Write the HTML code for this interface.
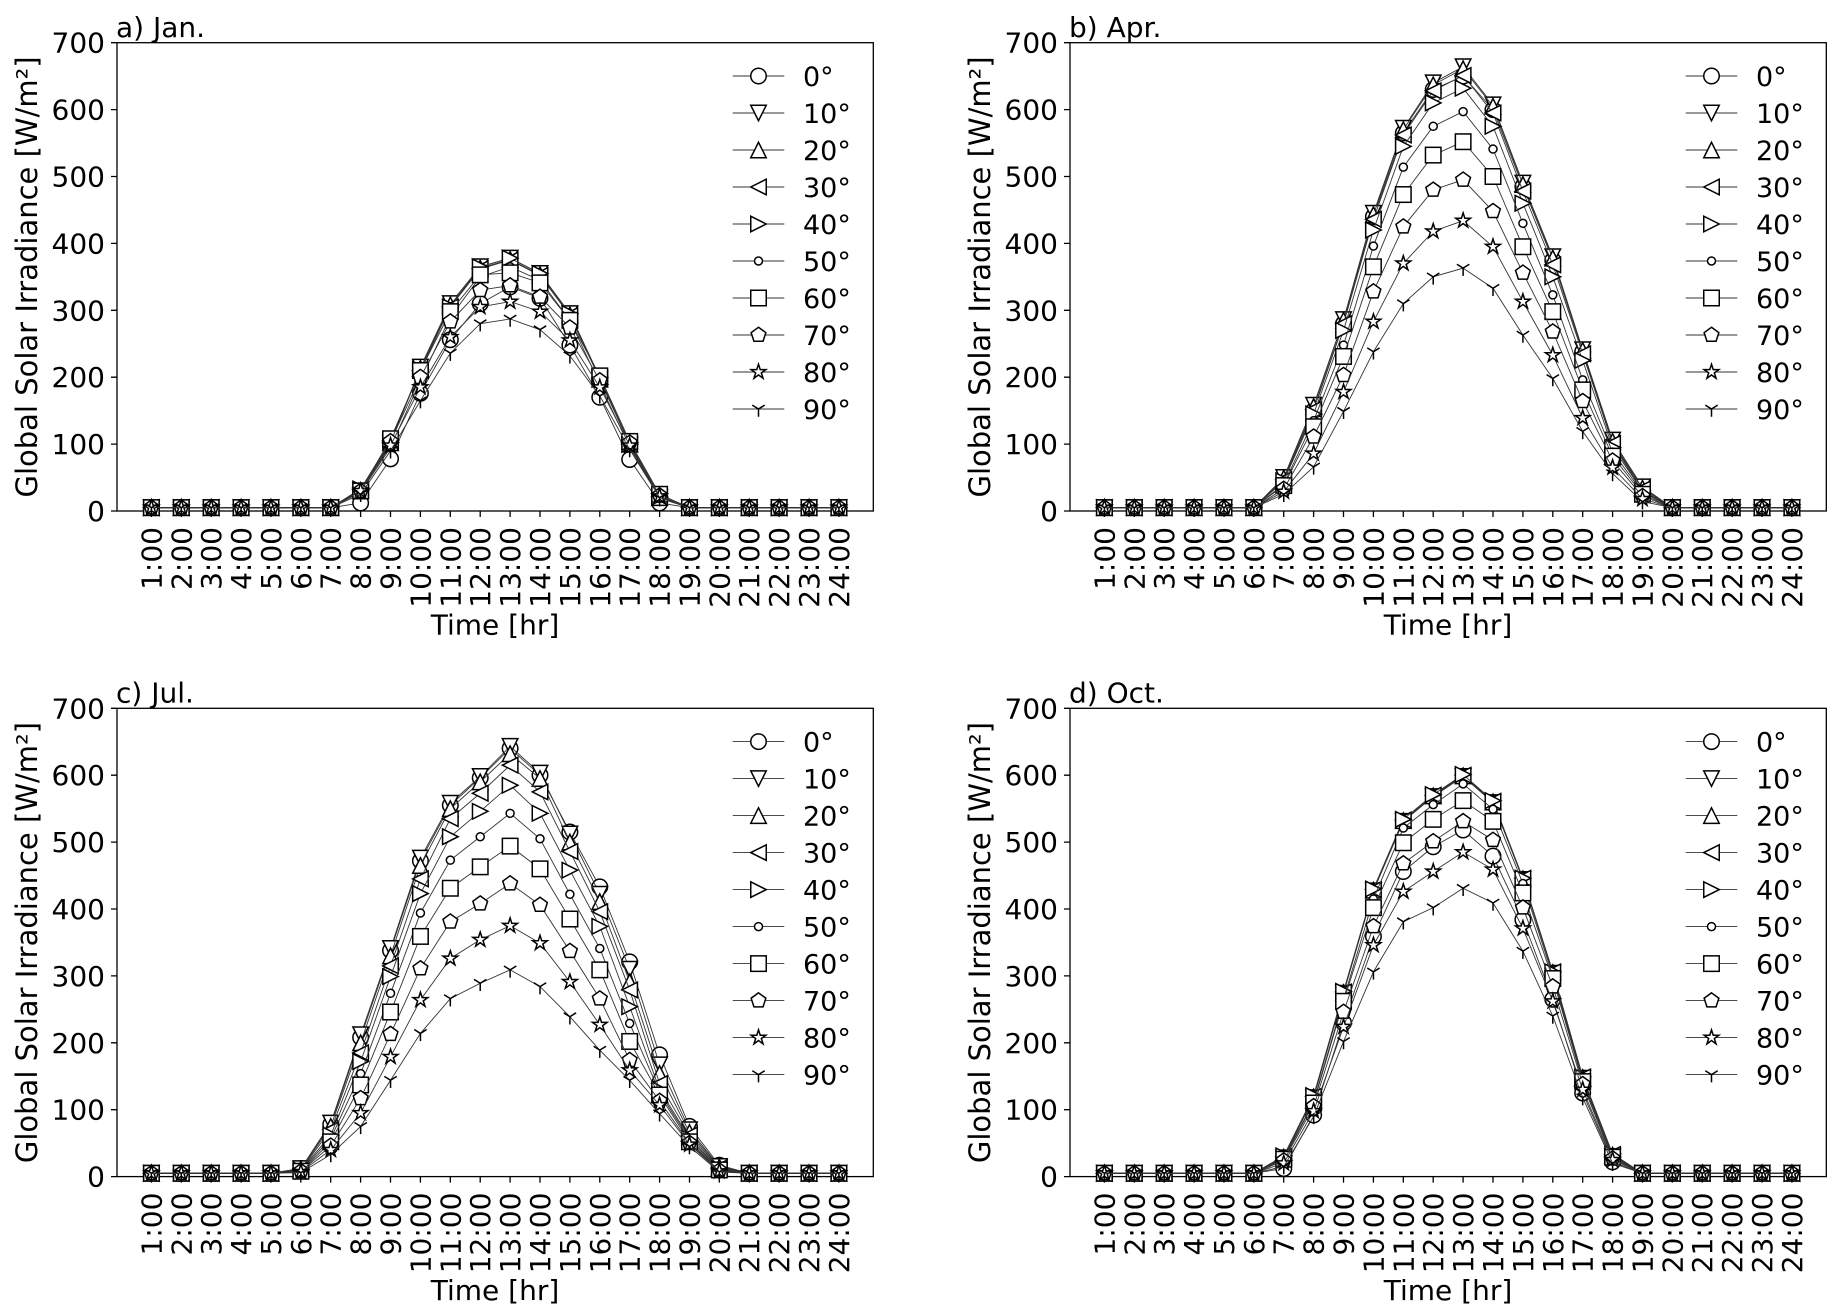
<!DOCTYPE html>
<html><head><meta charset="utf-8"><style>
html,body{margin:0;padding:0;background:#fff;}
svg{display:block;}
text{font-family:"DejaVu Sans","Liberation Sans",sans-serif;fill:#000;font-size:28px;}
.lg{font-size:27px;}
.yl{font-size:29px;}
</style></head><body>
<svg id="s" width="1838" height="1314" viewBox="0 0 1838 1314" xmlns="http://www.w3.org/2000/svg">
<rect width="1838" height="1314" fill="#fff"/>

<!-- Panel a -->
<g transform="translate(0,0)">
<rect x="117" y="42.7" width="756.3" height="468.3" fill="none" stroke="#000" stroke-width="1.3"/>
<path d="M111 511H117M111 444.1H117M111 377.2H117M111 310.3H117M111 243.4H117M111 176.5H117M111 109.6H117M111 42.7H117M151.4 511V517M181.3 511V517M211.2 511V517M241.1 511V517M271 511V517M300.8 511V517M330.7 511V517M360.6 511V517M390.5 511V517M420.4 511V517M450.3 511V517M480.2 511V517M510.1 511V517M540 511V517M569.9 511V517M599.8 511V517M629.7 511V517M659.6 511V517M689.5 511V517M719.3 511V517M749.2 511V517M779.1 511V517M809 511V517M838.9 511V517" stroke="#000" stroke-width="1.3" fill="none"/>
<g text-anchor="end">
<text x="105" y="521">0</text><text x="105" y="454.1">100</text><text x="105" y="387.2">200</text><text x="105" y="320.3">300</text><text x="105" y="253.4">400</text><text x="105" y="186.5">500</text><text x="105" y="119.6">600</text><text x="105" y="52.7">700</text>
<text transform="translate(161.4,527) rotate(-90)">1:00</text><text transform="translate(191.3,527) rotate(-90)">2:00</text><text transform="translate(221.2,527) rotate(-90)">3:00</text><text transform="translate(251.1,527) rotate(-90)">4:00</text><text transform="translate(281,527) rotate(-90)">5:00</text><text transform="translate(310.8,527) rotate(-90)">6:00</text><text transform="translate(340.7,527) rotate(-90)">7:00</text><text transform="translate(370.6,527) rotate(-90)">8:00</text><text transform="translate(400.5,527) rotate(-90)">9:00</text><text transform="translate(430.4,527) rotate(-90)">10:00</text><text transform="translate(460.3,527) rotate(-90)">11:00</text><text transform="translate(490.2,527) rotate(-90)">12:00</text><text transform="translate(520.1,527) rotate(-90)">13:00</text><text transform="translate(550,527) rotate(-90)">14:00</text><text transform="translate(579.9,527) rotate(-90)">15:00</text><text transform="translate(609.8,527) rotate(-90)">16:00</text><text transform="translate(639.7,527) rotate(-90)">17:00</text><text transform="translate(669.6,527) rotate(-90)">18:00</text><text transform="translate(699.5,527) rotate(-90)">19:00</text><text transform="translate(729.3,527) rotate(-90)">20:00</text><text transform="translate(759.2,527) rotate(-90)">21:00</text><text transform="translate(789.1,527) rotate(-90)">22:00</text><text transform="translate(819,527) rotate(-90)">23:00</text><text transform="translate(848.9,527) rotate(-90)">24:00</text>
</g>
<text x="116" y="37">a) Jan.</text>
<text class="yl" transform="translate(37,277) rotate(-90)" text-anchor="middle">Global Solar Irradiance [W/m²]</text>
<text x="495" y="634.5" text-anchor="middle">Time [hr]</text>
<g><text class="lg" x="803" y="86">0°</text><text class="lg" x="803" y="123">10°</text><text class="lg" x="803" y="160">20°</text><text class="lg" x="803" y="197">30°</text><text class="lg" x="803" y="234">40°</text><text class="lg" x="803" y="271">50°</text><text class="lg" x="803" y="308">60°</text><text class="lg" x="803" y="345">70°</text><text class="lg" x="803" y="382">80°</text><text class="lg" x="803" y="419">90°</text></g>
</g>

<!-- Panel b -->
<g transform="translate(953,0)">
<rect x="117" y="42.7" width="756.3" height="468.3" fill="none" stroke="#000" stroke-width="1.3"/>
<path d="M111 511H117M111 444.1H117M111 377.2H117M111 310.3H117M111 243.4H117M111 176.5H117M111 109.6H117M111 42.7H117M151.4 511V517M181.3 511V517M211.2 511V517M241.1 511V517M271 511V517M300.8 511V517M330.7 511V517M360.6 511V517M390.5 511V517M420.4 511V517M450.3 511V517M480.2 511V517M510.1 511V517M540 511V517M569.9 511V517M599.8 511V517M629.7 511V517M659.6 511V517M689.5 511V517M719.3 511V517M749.2 511V517M779.1 511V517M809 511V517M838.9 511V517" stroke="#000" stroke-width="1.3" fill="none"/>
<g text-anchor="end">
<text x="105" y="521">0</text><text x="105" y="454.1">100</text><text x="105" y="387.2">200</text><text x="105" y="320.3">300</text><text x="105" y="253.4">400</text><text x="105" y="186.5">500</text><text x="105" y="119.6">600</text><text x="105" y="52.7">700</text>
<text transform="translate(161.4,527) rotate(-90)">1:00</text><text transform="translate(191.3,527) rotate(-90)">2:00</text><text transform="translate(221.2,527) rotate(-90)">3:00</text><text transform="translate(251.1,527) rotate(-90)">4:00</text><text transform="translate(281,527) rotate(-90)">5:00</text><text transform="translate(310.8,527) rotate(-90)">6:00</text><text transform="translate(340.7,527) rotate(-90)">7:00</text><text transform="translate(370.6,527) rotate(-90)">8:00</text><text transform="translate(400.5,527) rotate(-90)">9:00</text><text transform="translate(430.4,527) rotate(-90)">10:00</text><text transform="translate(460.3,527) rotate(-90)">11:00</text><text transform="translate(490.2,527) rotate(-90)">12:00</text><text transform="translate(520.1,527) rotate(-90)">13:00</text><text transform="translate(550,527) rotate(-90)">14:00</text><text transform="translate(579.9,527) rotate(-90)">15:00</text><text transform="translate(609.8,527) rotate(-90)">16:00</text><text transform="translate(639.7,527) rotate(-90)">17:00</text><text transform="translate(669.6,527) rotate(-90)">18:00</text><text transform="translate(699.5,527) rotate(-90)">19:00</text><text transform="translate(729.3,527) rotate(-90)">20:00</text><text transform="translate(759.2,527) rotate(-90)">21:00</text><text transform="translate(789.1,527) rotate(-90)">22:00</text><text transform="translate(819,527) rotate(-90)">23:00</text><text transform="translate(848.9,527) rotate(-90)">24:00</text>
</g>
<text x="116" y="37">b) Apr.</text>
<text class="yl" transform="translate(37,277) rotate(-90)" text-anchor="middle">Global Solar Irradiance [W/m²]</text>
<text x="495" y="634.5" text-anchor="middle">Time [hr]</text>
<g><text class="lg" x="803" y="86">0°</text><text class="lg" x="803" y="123">10°</text><text class="lg" x="803" y="160">20°</text><text class="lg" x="803" y="197">30°</text><text class="lg" x="803" y="234">40°</text><text class="lg" x="803" y="271">50°</text><text class="lg" x="803" y="308">60°</text><text class="lg" x="803" y="345">70°</text><text class="lg" x="803" y="382">80°</text><text class="lg" x="803" y="419">90°</text></g>
</g>

<!-- Panel c -->
<g transform="translate(0,665.6)">
<rect x="117" y="42.7" width="756.3" height="468.3" fill="none" stroke="#000" stroke-width="1.3"/>
<path d="M111 511H117M111 444.1H117M111 377.2H117M111 310.3H117M111 243.4H117M111 176.5H117M111 109.6H117M111 42.7H117M151.4 511V517M181.3 511V517M211.2 511V517M241.1 511V517M271 511V517M300.8 511V517M330.7 511V517M360.6 511V517M390.5 511V517M420.4 511V517M450.3 511V517M480.2 511V517M510.1 511V517M540 511V517M569.9 511V517M599.8 511V517M629.7 511V517M659.6 511V517M689.5 511V517M719.3 511V517M749.2 511V517M779.1 511V517M809 511V517M838.9 511V517" stroke="#000" stroke-width="1.3" fill="none"/>
<g text-anchor="end">
<text x="105" y="521">0</text><text x="105" y="454.1">100</text><text x="105" y="387.2">200</text><text x="105" y="320.3">300</text><text x="105" y="253.4">400</text><text x="105" y="186.5">500</text><text x="105" y="119.6">600</text><text x="105" y="52.7">700</text>
<text transform="translate(161.4,527) rotate(-90)">1:00</text><text transform="translate(191.3,527) rotate(-90)">2:00</text><text transform="translate(221.2,527) rotate(-90)">3:00</text><text transform="translate(251.1,527) rotate(-90)">4:00</text><text transform="translate(281,527) rotate(-90)">5:00</text><text transform="translate(310.8,527) rotate(-90)">6:00</text><text transform="translate(340.7,527) rotate(-90)">7:00</text><text transform="translate(370.6,527) rotate(-90)">8:00</text><text transform="translate(400.5,527) rotate(-90)">9:00</text><text transform="translate(430.4,527) rotate(-90)">10:00</text><text transform="translate(460.3,527) rotate(-90)">11:00</text><text transform="translate(490.2,527) rotate(-90)">12:00</text><text transform="translate(520.1,527) rotate(-90)">13:00</text><text transform="translate(550,527) rotate(-90)">14:00</text><text transform="translate(579.9,527) rotate(-90)">15:00</text><text transform="translate(609.8,527) rotate(-90)">16:00</text><text transform="translate(639.7,527) rotate(-90)">17:00</text><text transform="translate(669.6,527) rotate(-90)">18:00</text><text transform="translate(699.5,527) rotate(-90)">19:00</text><text transform="translate(729.3,527) rotate(-90)">20:00</text><text transform="translate(759.2,527) rotate(-90)">21:00</text><text transform="translate(789.1,527) rotate(-90)">22:00</text><text transform="translate(819,527) rotate(-90)">23:00</text><text transform="translate(848.9,527) rotate(-90)">24:00</text>
</g>
<text x="116" y="37">c) Jul.</text>
<text class="yl" transform="translate(37,277) rotate(-90)" text-anchor="middle">Global Solar Irradiance [W/m²]</text>
<text x="495" y="634.5" text-anchor="middle">Time [hr]</text>
<g><text class="lg" x="803" y="86">0°</text><text class="lg" x="803" y="123">10°</text><text class="lg" x="803" y="160">20°</text><text class="lg" x="803" y="197">30°</text><text class="lg" x="803" y="234">40°</text><text class="lg" x="803" y="271">50°</text><text class="lg" x="803" y="308">60°</text><text class="lg" x="803" y="345">70°</text><text class="lg" x="803" y="382">80°</text><text class="lg" x="803" y="419">90°</text></g>
</g>

<!-- Panel d -->
<g transform="translate(953,665.6)">
<rect x="117" y="42.7" width="756.3" height="468.3" fill="none" stroke="#000" stroke-width="1.3"/>
<path d="M111 511H117M111 444.1H117M111 377.2H117M111 310.3H117M111 243.4H117M111 176.5H117M111 109.6H117M111 42.7H117M151.4 511V517M181.3 511V517M211.2 511V517M241.1 511V517M271 511V517M300.8 511V517M330.7 511V517M360.6 511V517M390.5 511V517M420.4 511V517M450.3 511V517M480.2 511V517M510.1 511V517M540 511V517M569.9 511V517M599.8 511V517M629.7 511V517M659.6 511V517M689.5 511V517M719.3 511V517M749.2 511V517M779.1 511V517M809 511V517M838.9 511V517" stroke="#000" stroke-width="1.3" fill="none"/>
<g text-anchor="end">
<text x="105" y="521">0</text><text x="105" y="454.1">100</text><text x="105" y="387.2">200</text><text x="105" y="320.3">300</text><text x="105" y="253.4">400</text><text x="105" y="186.5">500</text><text x="105" y="119.6">600</text><text x="105" y="52.7">700</text>
<text transform="translate(161.4,527) rotate(-90)">1:00</text><text transform="translate(191.3,527) rotate(-90)">2:00</text><text transform="translate(221.2,527) rotate(-90)">3:00</text><text transform="translate(251.1,527) rotate(-90)">4:00</text><text transform="translate(281,527) rotate(-90)">5:00</text><text transform="translate(310.8,527) rotate(-90)">6:00</text><text transform="translate(340.7,527) rotate(-90)">7:00</text><text transform="translate(370.6,527) rotate(-90)">8:00</text><text transform="translate(400.5,527) rotate(-90)">9:00</text><text transform="translate(430.4,527) rotate(-90)">10:00</text><text transform="translate(460.3,527) rotate(-90)">11:00</text><text transform="translate(490.2,527) rotate(-90)">12:00</text><text transform="translate(520.1,527) rotate(-90)">13:00</text><text transform="translate(550,527) rotate(-90)">14:00</text><text transform="translate(579.9,527) rotate(-90)">15:00</text><text transform="translate(609.8,527) rotate(-90)">16:00</text><text transform="translate(639.7,527) rotate(-90)">17:00</text><text transform="translate(669.6,527) rotate(-90)">18:00</text><text transform="translate(699.5,527) rotate(-90)">19:00</text><text transform="translate(729.3,527) rotate(-90)">20:00</text><text transform="translate(759.2,527) rotate(-90)">21:00</text><text transform="translate(789.1,527) rotate(-90)">22:00</text><text transform="translate(819,527) rotate(-90)">23:00</text><text transform="translate(848.9,527) rotate(-90)">24:00</text>
</g>
<text x="116" y="37">d) Oct.</text>
<text class="yl" transform="translate(37,277) rotate(-90)" text-anchor="middle">Global Solar Irradiance [W/m²]</text>
<text x="495" y="634.5" text-anchor="middle">Time [hr]</text>
<g><text class="lg" x="803" y="86">0°</text><text class="lg" x="803" y="123">10°</text><text class="lg" x="803" y="160">20°</text><text class="lg" x="803" y="197">30°</text><text class="lg" x="803" y="234">40°</text><text class="lg" x="803" y="271">50°</text><text class="lg" x="803" y="308">60°</text><text class="lg" x="803" y="345">70°</text><text class="lg" x="803" y="382">80°</text><text class="lg" x="803" y="419">90°</text></g>
</g>

<g id="g0" transform="translate(0,0)"></g>
<g id="g1" transform="translate(953,0)"></g>
<g id="g2" transform="translate(0,665.6)"></g>
<g id="g3" transform="translate(953,665.6)"></g>
</svg>
<script>
(function(){
var JAN=[
[5,5,12,78,176,256,310,335,318,248,170,77,12,5,5],
[5,5,30,100,215,310,365,378,355,295,198,98,20,5,5],
[5,5,30,102,213,308,363,376,353,293,197,100,20,5,5],
[5,5,32,105,210,305,362,375,352,292,198,100,21,5,5],
[5,5,33,105,212,305,365,378,355,295,200,100,21,5,5],
[5,5,28,95,195,290,350,365,345,285,190,95,19,5,5],
[5,5,30,108,210,298,353,356,341,285,202,104,25,5,5],
[5,5,30,104,200,283,330,337,320,274,195,102,23,5,5],
[5,5,30,98,185,260,305,313,298,255,185,98,22,5,5],
[5,5,25,90,165,236,280,287,271,232,172,92,20,5,5]];
var APR=[
[5,45,150,280,440,565,630,650,600,485,375,238,100,30,5],
[5,50,158,286,445,572,640,664,607,490,380,241,106,36,5],
[5,49,156,285,443,570,637,661,605,488,378,240,104,34,5],
[5,47,152,280,436,562,628,651,595,478,368,235,101,33,5],
[5,45,145,270,420,545,610,632,575,460,350,225,95,30,5],
[5,40,135,248,396,514,575,597,541,430,323,196,88,28,5],
[5,38,126,231,365,473,532,552,500,395,298,181,82,25,5],
[5,33,111,203,328,425,480,495,448,356,268,164,75,22,5],
[5,29,86,178,283,370,418,434,395,313,233,139,65,18,5],
[5,25,66,149,238,310,350,363,333,263,198,119,56,14,5]];
var JUL=[
[12,78,208,338,472,555,596,640,600,515,433,321,182,75,17],
[12,80,212,341,476,558,598,643,603,512,422,310,167,70,15],
[11,75,200,330,465,550,590,632,595,500,411,291,154,66,14],
[10,70,185,315,445,535,573,615,575,486,396,279,139,62,13],
[10,62,172,299,423,508,546,585,543,458,374,254,130,58,12],
[9,57,154,274,394,473,508,543,505,422,341,229,126,55,11],
[8,52,137,246,359,431,463,494,460,385,309,202,122,52,10],
[8,46,117,213,311,381,408,438,406,337,266,174,113,50,9],
[7,40,95,179,264,326,354,375,349,291,227,159,107,48,8],
[6,33,75,144,214,266,289,309,284,239,189,144,94,45,7]];
var OCT=[
[5,12,92,230,359,456,493,518,479,384,265,125,22,5,5],
[5,28,118,274,427,531,568,598,559,444,304,147,30,5,5],
[5,29,119,275,428,532,569,599,560,445,305,148,32,5,5],
[5,30,120,276,429,533,570,600,561,446,306,149,33,5,5],
[5,31,121,277,430,534,571,601,562,446,306,149,34,5,5],
[5,27,112,265,415,521,556,587,549,438,300,145,30,5,5],
[5,26,110,262,402,499,534,562,531,424,296,142,29,5,5],
[5,24,105,246,374,468,501,531,503,402,284,138,27,5,5],
[5,20,98,224,346,426,456,485,459,371,262,130,25,5,5],
[5,15,90,202,306,381,402,431,409,337,240,118,20,5,5]];
var SETS=[JAN,APR,JUL,OCT];
var TYPES=['o','v','^','<','>','.','s','p','*','1'];
var R=7.75;
function f(n){return n.toFixed(2);}
function poly(pts){return pts.map(function(p){return f(p[0])+','+f(p[1]);}).join(' ');}
function marker(t,x,y){
  var st=' fill="#fff" stroke="#000" stroke-width="1.5"';
  switch(t){
    case 'o': return '<circle cx="'+f(x)+'" cy="'+f(y)+'" r="'+R+'"'+st+'/>';
    case '.': return '<circle cx="'+f(x)+'" cy="'+f(y)+'" r="4"'+st+'/>';
    case 'v': return '<polygon points="'+poly([[x,y+R],[x-R,y-R],[x+R,y-R]])+'"'+st+'/>';
    case '^': return '<polygon points="'+poly([[x,y-R],[x-R,y+R],[x+R,y+R]])+'"'+st+'/>';
    case '<': return '<polygon points="'+poly([[x-R,y],[x+R,y-R],[x+R,y+R]])+'"'+st+'/>';
    case '>': return '<polygon points="'+poly([[x+R,y],[x-R,y-R],[x-R,y+R]])+'"'+st+'/>';
    case 's': return '<rect x="'+f(x-R)+'" y="'+f(y-R)+'" width="'+(2*R)+'" height="'+(2*R)+'"'+st+'/>';
    case 'p': var a=[];for(var k=0;k<5;k++){var an=(-90+72*k)*Math.PI/180;a.push([x+R*Math.cos(an),y+R*Math.sin(an)]);}
      return '<polygon points="'+poly(a)+'"'+st+'/>';
    case '*': var b=[];for(var k=0;k<10;k++){var an=(-90+36*k)*Math.PI/180;var rr=(k%2==0)?R:R*0.381966;b.push([x+rr*Math.cos(an),y+rr*Math.sin(an)]);}
      return '<polygon points="'+poly(b)+'"'+st+' stroke-linejoin="miter"/>';
    case '1': return '<path d="M'+f(x)+' '+f(y)+'v'+f(R)+'M'+f(x)+' '+f(y)+'l'+f(0.8*R)+' '+f(-0.5*R)+'M'+f(x)+' '+f(y)+'l'+f(-0.8*R)+' '+f(-0.5*R)+'" fill="none" stroke="#000" stroke-width="1.5"/>';
  }
  return '';
}
function X(h){return 151.4+(h-1)*29.893;}
function Y(v){return 511-v*0.66903;}
for(var p=0;p<4;p++){
  var D=SETS[p], s='';
  for(var i=0;i<10;i++){
    var vals=[];for(var h=1;h<=24;h++){vals.push((h>=6&&h<=20)?D[i][h-6]:5);}
    var pts=[];for(var h=1;h<=24;h++){pts.push([X(h),Y(vals[h-1])]);}
    s+='<polyline points="'+poly(pts)+'" fill="none" stroke="#333" stroke-width="0.9"/>';
    for(var h=0;h<24;h++){s+=marker(TYPES[i],pts[h][0],pts[h][1]);}
  }
  for(var i=0;i<10;i++){
    var ly=76+37*i;
    s+='<line x1="732.7" y1="'+ly+'" x2="784.3" y2="'+ly+'" stroke="#333" stroke-width="0.9"/>';
    s+=marker(TYPES[i],758.5,ly);
  }
  document.getElementById('g'+p).innerHTML=s;
}
})();
</script>
</body></html>
